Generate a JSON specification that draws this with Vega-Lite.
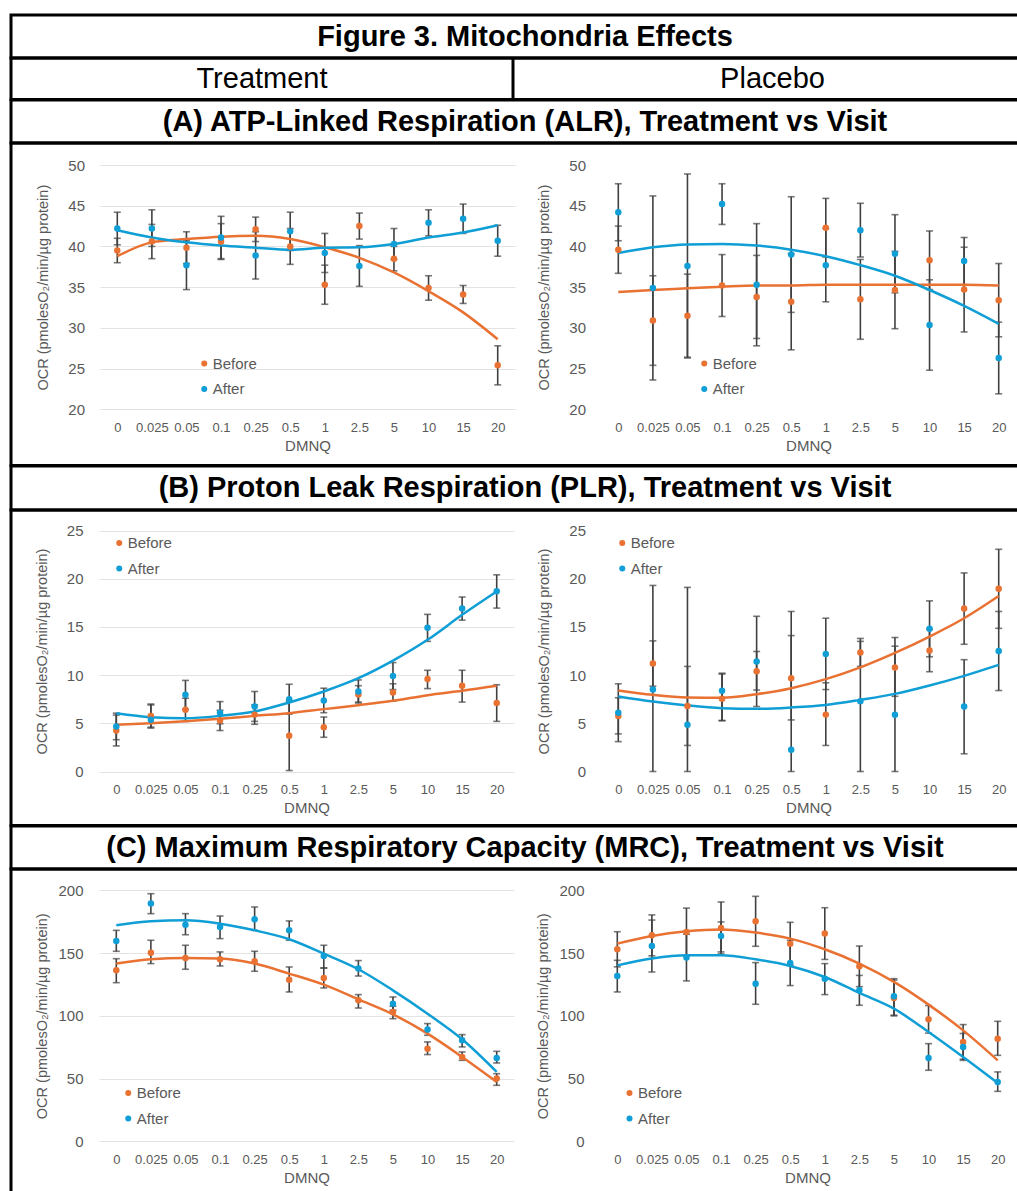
{
"$schema":"https://vega.github.io/schema/vega-lite/v6.json",
"padding":{"left":9,"top":13,"right":0,"bottom":0},
"spacing":0,
"bounds":"flush",
"resolve":{"scale":{"color":"independent"},"legend":{"color":"independent"}},
"config":{"font":"Liberation Sans","view":{"stroke":"black","strokeWidth":3},
"axis":{"ticks":false,"domain":false,"labelColor":"#595959","titleColor":"#595959","titleFontWeight":"normal","gridColor":"#E3E3E3","gridWidth":1},
"axisX":{"labelAngle":0,"labelFontSize":13,"labelPadding":12,"titleFontSize":15,"titlePadding":4,"grid":false,"labelOverlap":false},
"axisY":{"labelFontSize":15,"labelPadding":4,"titleFontSize":14.5,"titleBaseline":"middle","titleX":-45,"grid":true},
"legend":{"orient":"none","labelFontSize":15,"labelColor":"#595959","symbolType":"circle","symbolSize":36,"padding":0,"rowPadding":9.5,"labelOffset":1}},
"datasets":{"d":[
{"p":"A","a":"T","s":"Before","d":"0","v":39.5,"lo":38.0,"hi":41.0,"f":38.8},
{"p":"A","a":"T","s":"Before","d":"0.025","v":40.6,"lo":38.5,"hi":42.7,"f":40.5},
{"p":"A","a":"T","s":"Before","d":"0.05","v":39.85,"lo":37.9,"hi":41.8,"f":40.9},
{"p":"A","a":"T","s":"Before","d":"0.1","v":40.6,"lo":38.4,"hi":42.8,"f":41.2},
{"p":"A","a":"T","s":"Before","d":"0.25","v":42.1,"lo":40.6,"hi":43.6,"f":41.3},
{"p":"A","a":"T","s":"Before","d":"0.5","v":40.0,"lo":37.8,"hi":42.2,"f":40.9},
{"p":"A","a":"T","s":"Before","d":"1","v":35.3,"lo":32.9,"hi":37.7,"f":39.9},
{"p":"A","a":"T","s":"Before","d":"2.5","v":42.5,"lo":40.9,"hi":44.1,"f":38.6},
{"p":"A","a":"T","s":"Before","d":"5","v":38.5,"lo":37.0,"hi":40.0,"f":36.8},
{"p":"A","a":"T","s":"Before","d":"10","v":34.9,"lo":33.4,"hi":36.4,"f":34.5},
{"p":"A","a":"T","s":"Before","d":"15","v":34.1,"lo":33.0,"hi":35.2,"f":31.9},
{"p":"A","a":"T","s":"Before","d":"20","v":25.4,"lo":23.0,"hi":27.8,"f":28.6},
{"p":"A","a":"T","s":"After","d":"0","v":42.2,"lo":40.2,"hi":44.2,"f":42.0},
{"p":"A","a":"T","s":"After","d":"0.025","v":42.2,"lo":40.0,"hi":44.5,"f":41.1},
{"p":"A","a":"T","s":"After","d":"0.05","v":37.7,"lo":34.7,"hi":40.7,"f":40.5},
{"p":"A","a":"T","s":"After","d":"0.1","v":41.1,"lo":38.5,"hi":43.7,"f":40.1},
{"p":"A","a":"T","s":"After","d":"0.25","v":38.9,"lo":36.0,"hi":41.8,"f":39.85},
{"p":"A","a":"T","s":"After","d":"0.5","v":41.85,"lo":39.5,"hi":44.2,"f":39.6},
{"p":"A","a":"T","s":"After","d":"1","v":39.2,"lo":36.8,"hi":41.6,"f":39.85},
{"p":"A","a":"T","s":"After","d":"2.5","v":37.6,"lo":35.1,"hi":40.1,"f":39.9},
{"p":"A","a":"T","s":"After","d":"5","v":40.3,"lo":38.4,"hi":42.2,"f":40.3},
{"p":"A","a":"T","s":"After","d":"10","v":42.9,"lo":41.3,"hi":44.5,"f":41.1},
{"p":"A","a":"T","s":"After","d":"15","v":43.4,"lo":41.6,"hi":45.2,"f":41.7},
{"p":"A","a":"T","s":"After","d":"20","v":40.7,"lo":38.8,"hi":42.6,"f":42.6},
{"p":"A","a":"P","s":"Before","d":"0","v":39.6,"lo":36.7,"hi":42.5,"f":34.4},
{"p":"A","a":"P","s":"Before","d":"0.025","v":30.9,"lo":25.4,"hi":36.4,"f":34.65},
{"p":"A","a":"P","s":"Before","d":"0.05","v":31.5,"lo":26.4,"hi":36.6,"f":34.85},
{"p":"A","a":"P","s":"Before","d":"0.1","v":35.2,"lo":31.4,"hi":39.0,"f":35.05},
{"p":"A","a":"P","s":"Before","d":"0.25","v":33.8,"lo":28.7,"hi":38.9,"f":35.2},
{"p":"A","a":"P","s":"Before","d":"0.5","v":33.2,"lo":27.3,"hi":39.1,"f":35.2},
{"p":"A","a":"P","s":"Before","d":"1","v":42.3,"lo":38.7,"hi":45.9,"f":35.3},
{"p":"A","a":"P","s":"Before","d":"2.5","v":33.5,"lo":28.6,"hi":38.4,"f":35.3},
{"p":"A","a":"P","s":"Before","d":"5","v":34.65,"lo":29.9,"hi":39.4,"f":35.3},
{"p":"A","a":"P","s":"Before","d":"10","v":38.3,"lo":34.7,"hi":41.9,"f":35.3},
{"p":"A","a":"P","s":"Before","d":"15","v":34.7,"lo":29.5,"hi":39.9,"f":35.3},
{"p":"A","a":"P","s":"Before","d":"20","v":33.4,"lo":28.9,"hi":37.9,"f":35.2},
{"p":"A","a":"P","s":"After","d":"0","v":44.2,"lo":40.7,"hi":47.7,"f":39.2},
{"p":"A","a":"P","s":"After","d":"0.025","v":34.9,"lo":23.6,"hi":46.2,"f":39.9},
{"p":"A","a":"P","s":"After","d":"0.05","v":37.6,"lo":26.3,"hi":48.9,"f":40.25},
{"p":"A","a":"P","s":"After","d":"0.1","v":45.2,"lo":42.7,"hi":47.7,"f":40.3},
{"p":"A","a":"P","s":"After","d":"0.25","v":35.3,"lo":27.8,"hi":42.8,"f":40.1},
{"p":"A","a":"P","s":"After","d":"0.5","v":39.0,"lo":31.9,"hi":46.1,"f":39.6},
{"p":"A","a":"P","s":"After","d":"1","v":37.7,"lo":33.2,"hi":42.2,"f":38.8},
{"p":"A","a":"P","s":"After","d":"2.5","v":42.0,"lo":38.7,"hi":45.3,"f":37.7},
{"p":"A","a":"P","s":"After","d":"5","v":39.1,"lo":34.3,"hi":43.9,"f":36.4},
{"p":"A","a":"P","s":"After","d":"10","v":30.35,"lo":24.8,"hi":35.9,"f":34.65},
{"p":"A","a":"P","s":"After","d":"15","v":38.2,"lo":35.3,"hi":41.1,"f":32.7},
{"p":"A","a":"P","s":"After","d":"20","v":26.3,"lo":21.9,"hi":30.7,"f":30.5},
{"p":"B","a":"T","s":"Before","d":"0","v":4.25,"lo":2.65,"hi":5.85,"f":4.84},
{"p":"B","a":"T","s":"Before","d":"0.025","v":5.77,"lo":4.6,"hi":6.9,"f":5.0},
{"p":"B","a":"T","s":"Before","d":"0.05","v":6.4,"lo":5.2,"hi":7.6,"f":5.2},
{"p":"B","a":"T","s":"Before","d":"0.1","v":5.3,"lo":4.25,"hi":6.35,"f":5.46},
{"p":"B","a":"T","s":"Before","d":"0.25","v":5.9,"lo":4.9,"hi":6.9,"f":5.77},
{"p":"B","a":"T","s":"Before","d":"0.5","v":3.7,"lo":0.1,"hi":7.3,"f":6.05},
{"p":"B","a":"T","s":"Before","d":"1","v":4.6,"lo":3.55,"hi":5.65,"f":6.47},
{"p":"B","a":"T","s":"Before","d":"2.5","v":8.0,"lo":7.1,"hi":8.9,"f":6.88},
{"p":"B","a":"T","s":"Before","d":"5","v":8.2,"lo":7.3,"hi":9.1,"f":7.33},
{"p":"B","a":"T","s":"Before","d":"10","v":9.6,"lo":8.6,"hi":10.5,"f":7.92},
{"p":"B","a":"T","s":"Before","d":"15","v":8.9,"lo":7.2,"hi":10.5,"f":8.37},
{"p":"B","a":"T","s":"Before","d":"20","v":7.1,"lo":5.2,"hi":9.0,"f":8.89},
{"p":"B","a":"T","s":"After","d":"0","v":4.67,"lo":3.3,"hi":6.05,"f":6.05},
{"p":"B","a":"T","s":"After","d":"0.025","v":5.36,"lo":4.5,"hi":7.0,"f":5.64},
{"p":"B","a":"T","s":"After","d":"0.05","v":7.95,"lo":6.45,"hi":9.45,"f":5.53},
{"p":"B","a":"T","s":"After","d":"0.1","v":6.1,"lo":4.95,"hi":7.25,"f":5.77},
{"p":"B","a":"T","s":"After","d":"0.25","v":6.74,"lo":5.2,"hi":8.3,"f":6.22},
{"p":"B","a":"T","s":"After","d":"0.5","v":7.5,"lo":5.95,"hi":9.05,"f":7.16},
{"p":"B","a":"T","s":"After","d":"1","v":7.36,"lo":6.1,"hi":8.64,"f":8.3},
{"p":"B","a":"T","s":"After","d":"2.5","v":8.3,"lo":7.2,"hi":9.5,"f":9.68},
{"p":"B","a":"T","s":"After","d":"5","v":9.9,"lo":8.5,"hi":11.3,"f":11.5},
{"p":"B","a":"T","s":"After","d":"10","v":14.9,"lo":13.5,"hi":16.3,"f":13.66},
{"p":"B","a":"T","s":"After","d":"15","v":16.9,"lo":15.7,"hi":18.1,"f":16.25},
{"p":"B","a":"T","s":"After","d":"20","v":18.7,"lo":16.95,"hi":20.4,"f":18.67},
{"p":"B","a":"P","s":"Before","d":"0","v":5.77,"lo":3.9,"hi":7.65,"f":8.4},
{"p":"B","a":"P","s":"Before","d":"0.025","v":11.2,"lo":8.85,"hi":13.55,"f":7.95},
{"p":"B","a":"P","s":"Before","d":"0.05","v":6.8,"lo":2.7,"hi":10.9,"f":7.68},
{"p":"B","a":"P","s":"Before","d":"0.1","v":7.54,"lo":5.3,"hi":10.1,"f":7.64},
{"p":"B","a":"P","s":"Before","d":"0.25","v":10.4,"lo":8.45,"hi":12.45,"f":8.02},
{"p":"B","a":"P","s":"Before","d":"0.5","v":9.68,"lo":5.35,"hi":14.1,"f":8.64},
{"p":"B","a":"P","s":"Before","d":"1","v":5.9,"lo":2.7,"hi":9.2,"f":9.58},
{"p":"B","a":"P","s":"Before","d":"2.5","v":12.35,"lo":10.9,"hi":13.8,"f":10.8},
{"p":"B","a":"P","s":"Before","d":"5","v":10.8,"lo":7.8,"hi":13.0,"f":12.3},
{"p":"B","a":"P","s":"Before","d":"10","v":12.55,"lo":10.35,"hi":14.75,"f":14.0},
{"p":"B","a":"P","s":"Before","d":"15","v":16.9,"lo":13.2,"hi":20.6,"f":15.9},
{"p":"B","a":"P","s":"Before","d":"20","v":18.95,"lo":14.85,"hi":23.05,"f":18.2},
{"p":"B","a":"P","s":"After","d":"0","v":6.1,"lo":3.1,"hi":9.1,"f":7.78},
{"p":"B","a":"P","s":"After","d":"0.025","v":8.5,"lo":0,"hi":19.3,"f":7.26},
{"p":"B","a":"P","s":"After","d":"0.05","v":4.84,"lo":0,"hi":19.1,"f":6.85},
{"p":"B","a":"P","s":"After","d":"0.1","v":8.37,"lo":5.26,"hi":10.2,"f":6.57},
{"p":"B","a":"P","s":"After","d":"0.25","v":11.4,"lo":6.74,"hi":16.1,"f":6.5},
{"p":"B","a":"P","s":"After","d":"0.5","v":2.25,"lo":0,"hi":16.6,"f":6.64},
{"p":"B","a":"P","s":"After","d":"1","v":12.2,"lo":8.5,"hi":15.9,"f":6.9},
{"p":"B","a":"P","s":"After","d":"2.5","v":7.3,"lo":0,"hi":13.5,"f":7.43},
{"p":"B","a":"P","s":"After","d":"5","v":5.88,"lo":0,"hi":13.9,"f":8.05},
{"p":"B","a":"P","s":"After","d":"10","v":14.8,"lo":11.9,"hi":17.7,"f":8.92},
{"p":"B","a":"P","s":"After","d":"15","v":6.74,"lo":1.84,"hi":11.6,"f":9.92},
{"p":"B","a":"P","s":"After","d":"20","v":12.5,"lo":8.4,"hi":16.6,"f":11.06},
{"p":"C","a":"T","s":"Before","d":"0","v":136.3,"lo":126.4,"hi":145.5,"f":141.6},
{"p":"C","a":"T","s":"Before","d":"0.025","v":150.3,"lo":141.6,"hi":160.2,"f":145.0},
{"p":"C","a":"T","s":"Before","d":"0.05","v":146.1,"lo":137.1,"hi":156.2,"f":146.1},
{"p":"C","a":"T","s":"Before","d":"0.1","v":145.0,"lo":139.7,"hi":150.9,"f":145.6},
{"p":"C","a":"T","s":"Before","d":"0.25","v":143.4,"lo":135.5,"hi":151.4,"f":141.6},
{"p":"C","a":"T","s":"Before","d":"0.5","v":128.8,"lo":119.0,"hi":138.9,"f":133.6},
{"p":"C","a":"T","s":"Before","d":"1","v":130.1,"lo":122.2,"hi":138.1,"f":124.8},
{"p":"C","a":"T","s":"Before","d":"2.5","v":112.4,"lo":106.2,"hi":116.9,"f":113.1},
{"p":"C","a":"T","s":"Before","d":"5","v":103.1,"lo":97.7,"hi":107.6,"f":101.2},
{"p":"C","a":"T","s":"Before","d":"10","v":73.8,"lo":69.1,"hi":79.2,"f":85.8},
{"p":"C","a":"T","s":"Before","d":"15","v":67.2,"lo":64.5,"hi":71.2,"f":67.2},
{"p":"C","a":"T","s":"Before","d":"20","v":50.0,"lo":44.6,"hi":53.9,"f":47.3},
{"p":"C","a":"T","s":"After","d":"0","v":159.6,"lo":151.4,"hi":168.1,"f":172.1},
{"p":"C","a":"T","s":"After","d":"0.025","v":189.4,"lo":181.4,"hi":197.3,"f":175.3},
{"p":"C","a":"T","s":"After","d":"0.05","v":172.6,"lo":164.6,"hi":181.4,"f":176.1},
{"p":"C","a":"T","s":"After","d":"0.1","v":170.8,"lo":161.5,"hi":179.5,"f":173.4},
{"p":"C","a":"T","s":"After","d":"0.25","v":176.9,"lo":168.1,"hi":186.7,"f":168.1},
{"p":"C","a":"T","s":"After","d":"0.5","v":168.1,"lo":160.2,"hi":175.6,"f":161.0},
{"p":"C","a":"T","s":"After","d":"1","v":147.7,"lo":138.1,"hi":156.2,"f":149.5},
{"p":"C","a":"T","s":"After","d":"2.5","v":137.6,"lo":131.7,"hi":144.0,"f":137.1},
{"p":"C","a":"T","s":"After","d":"5","v":109.7,"lo":104.4,"hi":115.0,"f":120.3},
{"p":"C","a":"T","s":"After","d":"10","v":89.0,"lo":84.5,"hi":93.8,"f":101.7},
{"p":"C","a":"T","s":"After","d":"15","v":80.5,"lo":75.2,"hi":85.0,"f":81.3},
{"p":"C","a":"T","s":"After","d":"20","v":66.4,"lo":62.4,"hi":71.7,"f":55.3},
{"p":"C","a":"P","s":"Before","d":"0","v":153.0,"lo":139.0,"hi":167.0,"f":157.5},
{"p":"C","a":"P","s":"Before","d":"0.025","v":164.1,"lo":147.8,"hi":180.4,"f":163.6},
{"p":"C","a":"P","s":"Before","d":"0.05","v":166.8,"lo":147.8,"hi":185.8,"f":167.3},
{"p":"C","a":"P","s":"Before","d":"0.1","v":170.0,"lo":149.3,"hi":190.7,"f":168.7},
{"p":"C","a":"P","s":"Before","d":"0.25","v":175.3,"lo":155.4,"hi":195.2,"f":166.3},
{"p":"C","a":"P","s":"Before","d":"0.5","v":157.5,"lo":140.5,"hi":174.5,"f":161.5},
{"p":"C","a":"P","s":"Before","d":"1","v":165.5,"lo":144.9,"hi":186.1,"f":153.0},
{"p":"C","a":"P","s":"Before","d":"2.5","v":139.4,"lo":123.2,"hi":155.6,"f":141.6},
{"p":"C","a":"P","s":"Before","d":"5","v":114.2,"lo":99.9,"hi":128.5,"f":127.0},
{"p":"C","a":"P","s":"Before","d":"10","v":97.2,"lo":86.2,"hi":108.2,"f":108.9},
{"p":"C","a":"P","s":"Before","d":"15","v":79.2,"lo":65.4,"hi":93.0,"f":88.4},
{"p":"C","a":"P","s":"Before","d":"20","v":81.8,"lo":68.5,"hi":95.6,"f":64.5},
{"p":"C","a":"P","s":"After","d":"0","v":131.7,"lo":119.0,"hi":144.2,"f":140.2},
{"p":"C","a":"P","s":"After","d":"0.025","v":155.6,"lo":134.9,"hi":176.3,"f":145.6},
{"p":"C","a":"P","s":"After","d":"0.05","v":146.4,"lo":127.8,"hi":165.0,"f":148.2},
{"p":"C","a":"P","s":"After","d":"0.1","v":163.6,"lo":150.9,"hi":174.8,"f":148.2},
{"p":"C","a":"P","s":"After","d":"0.25","v":125.6,"lo":109.2,"hi":142.4,"f":145.0},
{"p":"C","a":"P","s":"After","d":"0.5","v":142.1,"lo":124.1,"hi":160.1,"f":139.7},
{"p":"C","a":"P","s":"After","d":"1","v":129.6,"lo":116.9,"hi":141.6,"f":130.9},
{"p":"C","a":"P","s":"After","d":"2.5","v":120.3,"lo":108.4,"hi":132.2,"f":118.2},
{"p":"C","a":"P","s":"After","d":"5","v":115.5,"lo":100.5,"hi":129.6,"f":105.7},
{"p":"C","a":"P","s":"After","d":"10","v":66.4,"lo":56.6,"hi":77.8,"f":87.1},
{"p":"C","a":"P","s":"After","d":"15","v":75.2,"lo":64.5,"hi":85.9,"f":67.2},
{"p":"C","a":"P","s":"After","d":"20","v":47.3,"lo":39.8,"hi":55.3,"f":46.5}
]},
"vconcat":[
{"width":1028,"height":43,"view":{"stroke":"black","strokeWidth":3},"data":{"values":[{"t":"Figure 3. Mitochondria Effects"}]},"mark":{"type":"text","fontSize":29,"fontWeight":"bold","color":"black"},"encoding":{"text":{"field":"t"}}},
{"width":1028,"height":41.5,"data":{"values":[{"t":"Treatment"},{"t":"Placebo"}]},
"resolve":{"scale":{"x":"independent"}},
"layer":[
{"mark":{"type":"text","fontSize":29,"color":"black"},"encoding":{"x":{"field":"t","type":"nominal","sort":null,"scale":{"type":"point","domain":["Treatment","Placebo"],"range":[251,761.5],"padding":0},"axis":null},"text":{"field":"t"}}},
{"transform":[{"filter":"datum.t=='Placebo'"}],"mark":{"type":"rule","color":"black","strokeWidth":3},"encoding":{"x":{"field":"t","type":"nominal","bandPosition":0,"scale":{"type":"band","domain":["Treatment","Placebo"],"range":[0,1004],"paddingInner":0,"paddingOuter":0},"axis":null}}}
]},
{"width":1028,"height":43,"view":{"stroke":"black","strokeWidth":3},"data":{"values":[{"t":"(A) ATP-Linked Respiration (ALR), Treatment vs Visit"}]},"mark":{"type":"text","fontSize":29,"fontWeight":"bold","color":"black"},"encoding":{"text":{"field":"t"}}},
{"width":1028,"height":322.5,"data":{"name":"d"},
"resolve":{"scale":{"x":"independent","y":"independent","color":"independent"},"axis":{"x":"independent","y":"independent"},"legend":{"color":"independent"}},
"layer":[
{"transform":[{"filter":"datum.p=='A'&&datum.a=='T'"}],
"encoding":{"x":{"field":"d","type":"ordinal","sort":["0","0.025","0.05","0.1","0.25","0.5","1","2.5","5","10","15","20"],"title":"DMNQ","scale":{"type":"point","range":[89,504],"padding":0.5},"axis":{"orient":"bottom","offset":-56.2}}},
"layer":[
{"mark":{"type":"rule","color":"#404040","strokeWidth":1.6},"encoding":{"y":{"field":"lo","type":"quantitative","title":"OCR (pmolesO₂/min/µg protein)","scale":{"domain":[20,50],"range":[266.3,22],"zero":false,"nice":false},"axis":{"orient":"left","offset":-77.5,"values":[20,25,30,35,40,45,50]}},"y2":{"field":"hi"}}},
{"mark":{"type":"tick","color":"#404040","thickness":1.6,"size":7},"encoding":{"y":{"field":"lo","type":"quantitative"}}},
{"mark":{"type":"tick","color":"#404040","thickness":1.6,"size":7},"encoding":{"y":{"field":"hi","type":"quantitative"}}},
{"transform":[{"filter":"datum.s=='Before'"}],"mark":{"type":"line","interpolate":"monotone","strokeWidth":2.5,"color":"#E97132"},"encoding":{"y":{"field":"f","type":"quantitative"}}},
{"transform":[{"filter":"datum.s=='After'"}],"mark":{"type":"line","interpolate":"monotone","strokeWidth":2.5,"color":"#0F9ED5"},"encoding":{"y":{"field":"f","type":"quantitative"}}},
{"mark":{"type":"circle","size":42,"opacity":1},"encoding":{"y":{"field":"v","type":"quantitative"},"color":{"field":"s","type":"nominal","scale":{"domain":["Before","After"],"range":["#E97132","#0F9ED5"]},"legend":{"title":null,"symbolType":"circle","legendX":185.75,"legendY":213}}}}
]},
{"transform":[{"filter":"datum.p=='A'&&datum.a=='P'"}],
"encoding":{"x":{"field":"d","type":"ordinal","sort":["0","0.025","0.05","0.1","0.25","0.5","1","2.5","5","10","15","20"],"title":"DMNQ","scale":{"type":"point","range":[590,1005],"padding":0.5},"axis":{"orient":"bottom","offset":-56.2}}},
"layer":[
{"mark":{"type":"rule","color":"#404040","strokeWidth":1.6},"encoding":{"y":{"field":"lo","type":"quantitative","title":"OCR (pmolesO₂/min/µg protein)","scale":{"domain":[20,50],"range":[266.3,22],"zero":false,"nice":false},"axis":{"orient":"left","offset":-578.5,"values":[20,25,30,35,40,45,50]}},"y2":{"field":"hi"}}},
{"mark":{"type":"tick","color":"#404040","thickness":1.6,"size":7},"encoding":{"y":{"field":"lo","type":"quantitative"}}},
{"mark":{"type":"tick","color":"#404040","thickness":1.6,"size":7},"encoding":{"y":{"field":"hi","type":"quantitative"}}},
{"transform":[{"filter":"datum.s=='Before'"}],"mark":{"type":"line","interpolate":"monotone","strokeWidth":2.5,"color":"#E97132"},"encoding":{"y":{"field":"f","type":"quantitative"}}},
{"transform":[{"filter":"datum.s=='After'"}],"mark":{"type":"line","interpolate":"monotone","strokeWidth":2.5,"color":"#0F9ED5"},"encoding":{"y":{"field":"f","type":"quantitative"}}},
{"mark":{"type":"circle","size":42,"opacity":1},"encoding":{"y":{"field":"v","type":"quantitative"},"color":{"field":"s","type":"nominal","scale":{"domain":["Before","After"],"range":["#E97132","#0F9ED5"]},"legend":{"title":null,"symbolType":"circle","legendX":685.75,"legendY":213}}}}
]}
]},
{"width":1028,"height":44,"view":{"stroke":"black","strokeWidth":3},"data":{"values":[{"t":"(B) Proton Leak Respiration (PLR), Treatment vs Visit"}]},"mark":{"type":"text","fontSize":29,"fontWeight":"bold","color":"black"},"encoding":{"text":{"field":"t"}}},
{"width":1028,"height":315.5,"data":{"name":"d"},
"resolve":{"scale":{"x":"independent","y":"independent","color":"independent"},"axis":{"x":"independent","y":"independent"},"legend":{"color":"independent"}},
"layer":[
{"transform":[{"filter":"datum.p=='B'&&datum.a=='T'"}],
"encoding":{"x":{"field":"d","type":"ordinal","sort":["0","0.025","0.05","0.1","0.25","0.5","1","2.5","5","10","15","20"],"title":"DMNQ","scale":{"type":"point","range":[88,503],"padding":0.5},"axis":{"orient":"bottom","offset":-54}}},
"layer":[
{"mark":{"type":"rule","color":"#404040","strokeWidth":1.6},"encoding":{"y":{"field":"lo","type":"quantitative","title":"OCR (pmolesO₂/min/µg protein)","scale":{"domain":[0,25],"range":[261.5,20.5],"zero":false,"nice":false},"axis":{"orient":"left","offset":-76,"values":[0,5,10,15,20,25]}},"y2":{"field":"hi"}}},
{"mark":{"type":"tick","color":"#404040","thickness":1.6,"size":7},"encoding":{"y":{"field":"lo","type":"quantitative"}}},
{"mark":{"type":"tick","color":"#404040","thickness":1.6,"size":7},"encoding":{"y":{"field":"hi","type":"quantitative"}}},
{"transform":[{"filter":"datum.s=='Before'"}],"mark":{"type":"line","interpolate":"monotone","strokeWidth":2.5,"color":"#E97132"},"encoding":{"y":{"field":"f","type":"quantitative"}}},
{"transform":[{"filter":"datum.s=='After'"}],"mark":{"type":"line","interpolate":"monotone","strokeWidth":2.5,"color":"#0F9ED5"},"encoding":{"y":{"field":"f","type":"quantitative"}}},
{"mark":{"type":"circle","size":42,"opacity":1},"encoding":{"y":{"field":"v","type":"quantitative"},"color":{"field":"s","type":"nominal","scale":{"domain":["Before","After"],"range":["#E97132","#0F9ED5"]},"legend":{"title":null,"symbolType":"circle","legendX":100.75,"legendY":25.5}}}}
]},
{"transform":[{"filter":"datum.p=='B'&&datum.a=='P'"}],
"encoding":{"x":{"field":"d","type":"ordinal","sort":["0","0.025","0.05","0.1","0.25","0.5","1","2.5","5","10","15","20"],"title":"DMNQ","scale":{"type":"point","range":[590,1005],"padding":0.5},"axis":{"orient":"bottom","offset":-54}}},
"layer":[
{"mark":{"type":"rule","color":"#404040","strokeWidth":1.6},"encoding":{"y":{"field":"lo","type":"quantitative","title":"OCR (pmolesO₂/min/µg protein)","scale":{"domain":[0,25],"range":[261.5,20.5],"zero":false,"nice":false},"axis":{"orient":"left","offset":-578.5,"values":[0,5,10,15,20,25]}},"y2":{"field":"hi"}}},
{"mark":{"type":"tick","color":"#404040","thickness":1.6,"size":7},"encoding":{"y":{"field":"lo","type":"quantitative"}}},
{"mark":{"type":"tick","color":"#404040","thickness":1.6,"size":7},"encoding":{"y":{"field":"hi","type":"quantitative"}}},
{"transform":[{"filter":"datum.s=='Before'"}],"mark":{"type":"line","interpolate":"monotone","strokeWidth":2.5,"color":"#E97132"},"encoding":{"y":{"field":"f","type":"quantitative"}}},
{"transform":[{"filter":"datum.s=='After'"}],"mark":{"type":"line","interpolate":"monotone","strokeWidth":2.5,"color":"#0F9ED5"},"encoding":{"y":{"field":"f","type":"quantitative"}}},
{"mark":{"type":"circle","size":42,"opacity":1},"encoding":{"y":{"field":"v","type":"quantitative"},"color":{"field":"s","type":"nominal","scale":{"domain":["Before","After"],"range":["#E97132","#0F9ED5"]},"legend":{"title":null,"symbolType":"circle","legendX":603.75,"legendY":25.5}}}}
]}
]},
{"width":1028,"height":43,"view":{"stroke":"black","strokeWidth":3},"data":{"values":[{"t":"(C) Maximum Respiratory Capacity (MRC), Treatment vs Visit"}]},"mark":{"type":"text","fontSize":29,"fontWeight":"bold","color":"black"},"encoding":{"text":{"field":"t"}}},
{"width":1028,"height":326,"data":{"name":"d"},
"resolve":{"scale":{"x":"independent","y":"independent","color":"independent"},"axis":{"x":"independent","y":"independent"},"legend":{"color":"independent"}},
"layer":[
{"transform":[{"filter":"datum.p=='C'&&datum.a=='T'"}],
"encoding":{"x":{"field":"d","type":"ordinal","sort":["0","0.025","0.05","0.1","0.25","0.5","1","2.5","5","10","15","20"],"title":"DMNQ","scale":{"type":"point","range":[88,503],"padding":0.5},"axis":{"orient":"bottom","offset":-53.7}}},
"layer":[
{"mark":{"type":"rule","color":"#404040","strokeWidth":1.6},"encoding":{"y":{"field":"lo","type":"quantitative","title":"OCR (pmolesO₂/min/µg protein)","scale":{"domain":[0,200],"range":[272.3,21.3],"zero":false,"nice":false},"axis":{"orient":"left","offset":-76,"values":[0,50,100,150,200]}},"y2":{"field":"hi"}}},
{"mark":{"type":"tick","color":"#404040","thickness":1.6,"size":7},"encoding":{"y":{"field":"lo","type":"quantitative"}}},
{"mark":{"type":"tick","color":"#404040","thickness":1.6,"size":7},"encoding":{"y":{"field":"hi","type":"quantitative"}}},
{"transform":[{"filter":"datum.s=='Before'"}],"mark":{"type":"line","interpolate":"monotone","strokeWidth":2.5,"color":"#E97132"},"encoding":{"y":{"field":"f","type":"quantitative"}}},
{"transform":[{"filter":"datum.s=='After'"}],"mark":{"type":"line","interpolate":"monotone","strokeWidth":2.5,"color":"#0F9ED5"},"encoding":{"y":{"field":"f","type":"quantitative"}}},
{"mark":{"type":"circle","size":42,"opacity":1},"encoding":{"y":{"field":"v","type":"quantitative"},"color":{"field":"s","type":"nominal","scale":{"domain":["Before","After"],"range":["#E97132","#0F9ED5"]},"legend":{"title":null,"symbolType":"circle","legendX":109.75,"legendY":216.5}}}}
]},
{"transform":[{"filter":"datum.p=='C'&&datum.a=='P'"}],
"encoding":{"x":{"field":"d","type":"ordinal","sort":["0","0.025","0.05","0.1","0.25","0.5","1","2.5","5","10","15","20"],"title":"DMNQ","scale":{"type":"point","range":[589,1004],"padding":0.5},"axis":{"orient":"bottom","offset":-53.7}}},
"layer":[
{"mark":{"type":"rule","color":"#404040","strokeWidth":1.6},"encoding":{"y":{"field":"lo","type":"quantitative","title":"OCR (pmolesO₂/min/µg protein)","scale":{"domain":[0,200],"range":[272.3,21.3],"zero":false,"nice":false},"axis":{"orient":"left","offset":-577,"values":[0,50,100,150,200]}},"y2":{"field":"hi"}}},
{"mark":{"type":"tick","color":"#404040","thickness":1.6,"size":7},"encoding":{"y":{"field":"lo","type":"quantitative"}}},
{"mark":{"type":"tick","color":"#404040","thickness":1.6,"size":7},"encoding":{"y":{"field":"hi","type":"quantitative"}}},
{"transform":[{"filter":"datum.s=='Before'"}],"mark":{"type":"line","interpolate":"monotone","strokeWidth":2.5,"color":"#E97132"},"encoding":{"y":{"field":"f","type":"quantitative"}}},
{"transform":[{"filter":"datum.s=='After'"}],"mark":{"type":"line","interpolate":"monotone","strokeWidth":2.5,"color":"#0F9ED5"},"encoding":{"y":{"field":"f","type":"quantitative"}}},
{"mark":{"type":"circle","size":42,"opacity":1},"encoding":{"y":{"field":"v","type":"quantitative"},"color":{"field":"s","type":"nominal","scale":{"domain":["Before","After"],"range":["#E97132","#0F9ED5"]},"legend":{"title":null,"symbolType":"circle","legendX":611,"legendY":216.5}}}}
]}
]}
]
}
